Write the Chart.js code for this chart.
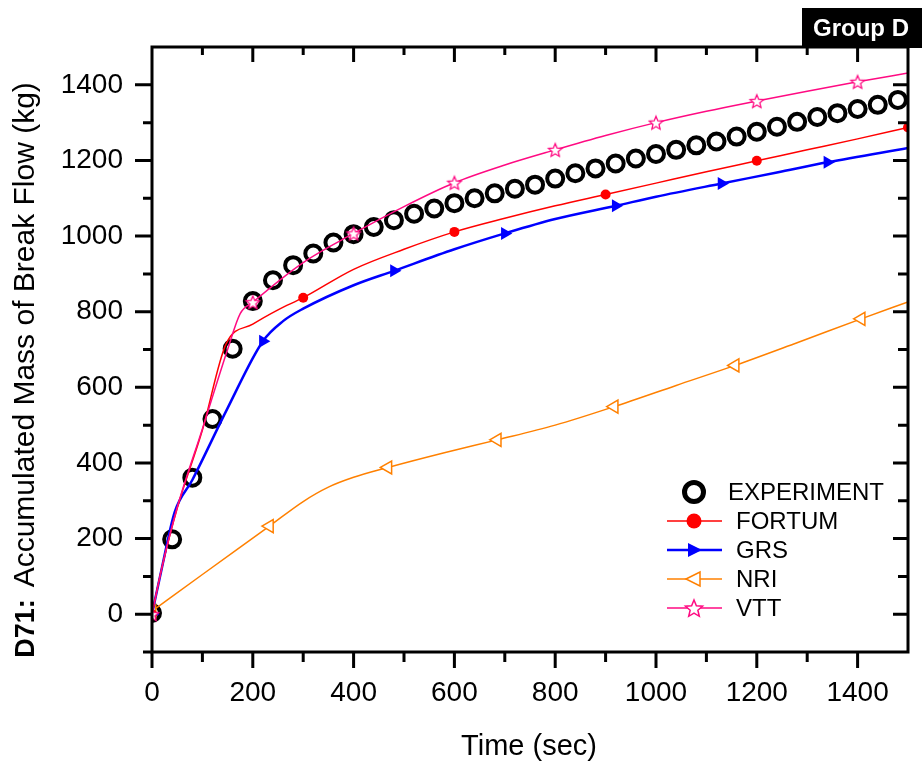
<!DOCTYPE html>
<html>
<head>
<meta charset="utf-8">
<script src="https://cdn.jsdelivr.net/npm/chart.js@4.4.0/dist/chart.umd.min.js"></script>
<style>
  html, body { margin: 0; padding: 0; background: #fff; }
</style>
</head>
<body>
<canvas id="chart" width="922" height="762"></canvas>
<script>
// --- data ---
const expTime = [0, 40, 80, 120, 160, 200, 240, 280, 320, 360, 400, 440, 480, 520, 560, 600, 640, 680, 720, 760,
  800, 840, 880, 920, 960, 1000, 1040, 1080, 1120, 1160, 1200, 1240, 1280, 1320, 1360, 1400, 1440, 1480];
const expMass = [3, 198, 361, 516, 702, 828, 883, 923, 954, 983, 1005, 1024, 1042, 1059, 1073, 1087, 1100, 1113, 1125, 1136,
  1152, 1166, 1179, 1192, 1205, 1217, 1228, 1240, 1250, 1263, 1276, 1289, 1302, 1315, 1325, 1336, 1347, 1360];

const fortumTime = [0, 20, 50, 100, 147, 200, 250, 300, 400, 500, 600, 700, 800, 900, 1000, 1100, 1200, 1300, 1400, 1500];
const fortumMass = [0, 125, 280, 487, 715, 767, 805, 837, 912, 965, 1011, 1047, 1080, 1110, 1140, 1170, 1199, 1228, 1257, 1287];
const fortumMarks = [0, 300, 600, 900, 1200, 1500];

const grsTime = [0, 20, 45, 80, 150, 220, 260, 300, 400, 480, 600, 700, 800, 920, 1000, 1130, 1240, 1340, 1500];
const grsMass = [0, 125, 270, 355, 545, 722, 775, 808, 870, 908, 965, 1007, 1045, 1080, 1104, 1139, 1168, 1195, 1233];
const grsMarks = [0, 220, 480, 700, 920, 1130, 1340];

const nriTime = [0, 100, 233, 300, 350, 400, 468, 580, 685, 800, 917, 1040, 1157, 1280, 1407, 1500];
const nriMass = [8, 105, 233, 298, 336, 362, 388, 427, 461, 500, 549, 605, 658, 718, 781, 826];
const nriMarks = [0, 233, 468, 685, 917, 1157, 1407];

const vttTime = [0, 20, 50, 100, 150, 175, 200, 300, 400, 500, 600, 700, 800, 900, 1000, 1100, 1200, 1300, 1400, 1500];
const vttMass = [0, 125, 282, 490, 700, 795, 825, 930, 1007, 1078, 1141, 1188, 1228, 1266, 1300, 1330, 1357, 1383, 1408, 1431];
const vttMarks = [0, 200, 400, 600, 800, 1000, 1200, 1400];

const xTicks = [0, 200, 400, 600, 800, 1000, 1200, 1400];
const yTicks = [0, 200, 400, 600, 800, 1000, 1200, 1400];
const legendNames = ['EXPERIMENT', 'FORTUM', 'GRS', 'NRI', 'VTT'];

const RED = '#ff0000', BLUE = '#0000ff', ORANGE = '#ff8000', PINK = '#ff0a82';
const FONT = '"Liberation Sans", Arial, sans-serif';

const pts = (t, m) => t.map((x, i) => ({ x: x, y: m[i] }));
const markAt = (list, r) => (ctx) => (ctx.raw && list.includes(ctx.raw.x) ? r : 0);

// open five-pointed star, used as a point image
function starPath(ctx, cx, cy, r) {
  ctx.beginPath();
  for (let i = 0; i < 10; i++) {
    const rr = i % 2 === 0 ? r : r * 0.45;
    const a = -Math.PI / 2 + i * Math.PI / 5;
    const px = cx + rr * Math.cos(a), py = cy + rr * Math.sin(a);
    if (i === 0) ctx.moveTo(px, py); else ctx.lineTo(px, py);
  }
  ctx.closePath();
}
function makeStar(r) {
  const c = document.createElement('canvas');
  c.width = c.height = Math.ceil(r * 2 + 4);
  const g = c.getContext('2d');
  starPath(g, c.width / 2, c.height / 2 + 0.8, r);
  g.fillStyle = '#fff';
  g.fill();
  g.strokeStyle = PINK;
  g.lineWidth = 1.3;
  g.stroke();
  return c;
}
const starImg = makeStar(7);

const frameAndTicks = {
  id: 'frameAndTicks',
  afterDatasetsDraw(chart) {
    const { ctx, chartArea: a, scales: { x, y } } = chart;
    ctx.save();
    ctx.strokeStyle = '#000';
    ctx.lineWidth = 3;
    ctx.lineCap = 'butt';
    ctx.beginPath();
    for (let v = 0; v <= 1500; v += 100) {
      const px = x.getPixelForValue(v);
      const major = v % 200 === 0;
      if (v > 0 && v < 1500) {
        ctx.moveTo(px, a.bottom); ctx.lineTo(px, a.bottom + (major ? 16 : 10));
        ctx.moveTo(px, a.top); ctx.lineTo(px, a.top + (major ? 15 : 8));
      }
    }
    for (let v = 0; v < 1500; v += 100) {
      const py = y.getPixelForValue(v);
      const major = v % 200 === 0;
      ctx.moveTo(a.left, py); ctx.lineTo(a.left - (major ? 17 : 9), py);
      ctx.moveTo(a.right, py); ctx.lineTo(a.right - (major ? 15 : 10), py);
    }
    // x=0 tick below the corner
    ctx.moveTo(a.left, a.bottom); ctx.lineTo(a.left, a.bottom + 16);
    ctx.stroke();
    ctx.strokeRect(a.left, a.top, a.right - a.left, a.bottom - a.top);
    ctx.beginPath();
    ctx.moveTo(a.left - 9, a.bottom); ctx.lineTo(a.left, a.bottom);
    ctx.stroke();
    ctx.restore();
  }
};

const annotations = {
  id: 'annotations',
  afterDraw(chart) {
    const ctx = chart.ctx;
    ctx.save();
    // y axis title, "D71" in bold
    ctx.translate(34, 370);
    ctx.rotate(-Math.PI / 2);
    ctx.fillStyle = '#000';
    ctx.textBaseline = 'alphabetic';
    ctx.textAlign = 'left';
    const boldPart = 'D71:';
    const restPart = 'Accumulated Mass of Break Flow (kg)';
    ctx.font = 'bold 27px ' + FONT;
    const wb = ctx.measureText(boldPart).width;
    ctx.font = '30px ' + FONT;
    const wr = ctx.measureText(restPart).width;
    const gap = 12;
    let sx = -(wb + gap + wr) / 2;
    ctx.font = 'bold 27px ' + FONT;
    ctx.fillText(boldPart, sx, 0);
    ctx.font = '30px ' + FONT;
    ctx.fillText(restPart, sx + wb + gap, 0);
    ctx.restore();

    // x axis title
    ctx.save();
    ctx.font = '29px ' + FONT;
    ctx.fillStyle = '#000';
    ctx.textAlign = 'center';
    ctx.textBaseline = 'alphabetic';
    ctx.fillText('Time (sec)', 529, 755);

    // Group D tag
    ctx.fillStyle = '#000';
    ctx.fillRect(802, 8, 120, 40);
    ctx.fillStyle = '#fff';
    ctx.font = 'bold 24px ' + FONT;
    ctx.textBaseline = 'middle';
    ctx.fillText('Group D', 861, 29);
    ctx.restore();

    // legend
    ctx.save();
    const rows = [492, 521, 550, 579, 608];
    const mx = 694;
    ctx.font = '24px ' + FONT;
    ctx.fillStyle = '#000';
    ctx.textBaseline = 'middle';
    ctx.textAlign = 'left';
    legendNames.forEach((name, i) => ctx.fillText(name, i === 0 ? 728 : 736, rows[i] + 1));

    ctx.lineWidth = 5;
    ctx.strokeStyle = '#000';
    ctx.beginPath(); ctx.arc(mx, rows[0], 9.5, 0, Math.PI * 2); ctx.stroke();

    const lineRow = (yy, color, w) => {
      ctx.strokeStyle = color; ctx.lineWidth = w;
      ctx.beginPath(); ctx.moveTo(667, yy); ctx.lineTo(722, yy); ctx.stroke();
    };
    lineRow(rows[1], RED, 1.5);
    ctx.fillStyle = RED;
    ctx.beginPath(); ctx.arc(mx, rows[1], 7.5, 0, Math.PI * 2); ctx.fill();

    lineRow(rows[2], BLUE, 2.5);
    ctx.fillStyle = BLUE;
    ctx.beginPath(); ctx.moveTo(mx + 8, rows[2]); ctx.lineTo(mx - 6, rows[2] - 7); ctx.lineTo(mx - 6, rows[2] + 7); ctx.closePath(); ctx.fill();

    lineRow(rows[3], ORANGE, 1.5);
    ctx.fillStyle = '#fff'; ctx.strokeStyle = ORANGE; ctx.lineWidth = 1.5;
    ctx.beginPath(); ctx.moveTo(mx - 8, rows[3]); ctx.lineTo(mx + 6, rows[3] - 7); ctx.lineTo(mx + 6, rows[3] + 7); ctx.closePath(); ctx.fill(); ctx.stroke();

    lineRow(rows[4], PINK, 1.5);
    starPath(ctx, mx, rows[4] + 1, 9);
    ctx.fillStyle = '#fff'; ctx.fill();
    ctx.strokeStyle = PINK; ctx.lineWidth = 1.5; ctx.stroke();
    ctx.restore();
  }
};

const lineSet = (label, t, m, color, width, extra) => Object.assign({
  label: label,
  data: pts(t, m),
  borderColor: color,
  borderWidth: width,
  showLine: true,
  cubicInterpolationMode: 'monotone',
  clip: 0,
  pointBorderColor: color,
  pointBorderWidth: 1.5
}, extra);

new Chart(document.getElementById('chart'), {
  type: 'scatter',
  data: {
    datasets: [
      lineSet('VTT', vttTime, vttMass, PINK, 1.5, {
        pointStyle: starImg, pointRadius: markAt(vttMarks, 7)
      }),
      lineSet('FORTUM', fortumTime, fortumMass, RED, 1.5, {
        pointStyle: 'circle', pointRadius: markAt(fortumMarks, 5), pointBackgroundColor: RED, pointBorderWidth: 0
      }),
      lineSet('GRS', grsTime, grsMass, BLUE, 2.5, {
        pointStyle: 'triangle', pointRotation: 90, pointRadius: markAt(grsMarks, 7.5), pointBackgroundColor: BLUE, pointBorderWidth: 0
      }),
      lineSet('NRI', nriTime, nriMass, ORANGE, 1.5, {
        pointStyle: 'triangle', pointRotation: -90, pointRadius: markAt(nriMarks, 7.5), pointBackgroundColor: '#fff'
      }),
      {
        label: 'EXPERIMENT',
        data: pts(expTime, expMass),
        showLine: false,
        clip: 0,
        pointStyle: 'circle',
        pointRadius: 8,
        pointBorderWidth: 4,
        pointBorderColor: '#000',
        pointBackgroundColor: 'rgba(0,0,0,0)'
      }
    ]
  },
  options: {
    responsive: false,
    animation: false,
    devicePixelRatio: 1,
    events: [],
    layout: { padding: { top: 47, right: 14, left: 0, bottom: 0 } },
    plugins: { legend: { display: false }, tooltip: { enabled: false } },
    scales: {
      x: {
        type: 'linear', min: 0, max: 1500,
        grid: { display: false, drawTicks: false },
        border: { display: false },
        ticks: { color: '#000', font: { family: FONT, size: 28 }, padding: 24, maxRotation: 0, callback: v => String(v) },
        afterBuildTicks: s => { s.ticks = xTicks.map(v => ({ value: v })); },
        afterFit: s => { s.height = 110; }
      },
      y: {
        type: 'linear', min: -100, max: 1500,
        grid: { display: false, drawTicks: false },
        border: { display: false },
        ticks: { color: '#000', font: { family: FONT, size: 28 }, padding: 29, callback: v => String(v) },
        afterBuildTicks: s => { s.ticks = yTicks.map(v => ({ value: v })); },
        afterFit: s => { s.width = 152; }
      }
    }
  },
  plugins: [frameAndTicks, annotations]
});
</script>
</body>
</html>
